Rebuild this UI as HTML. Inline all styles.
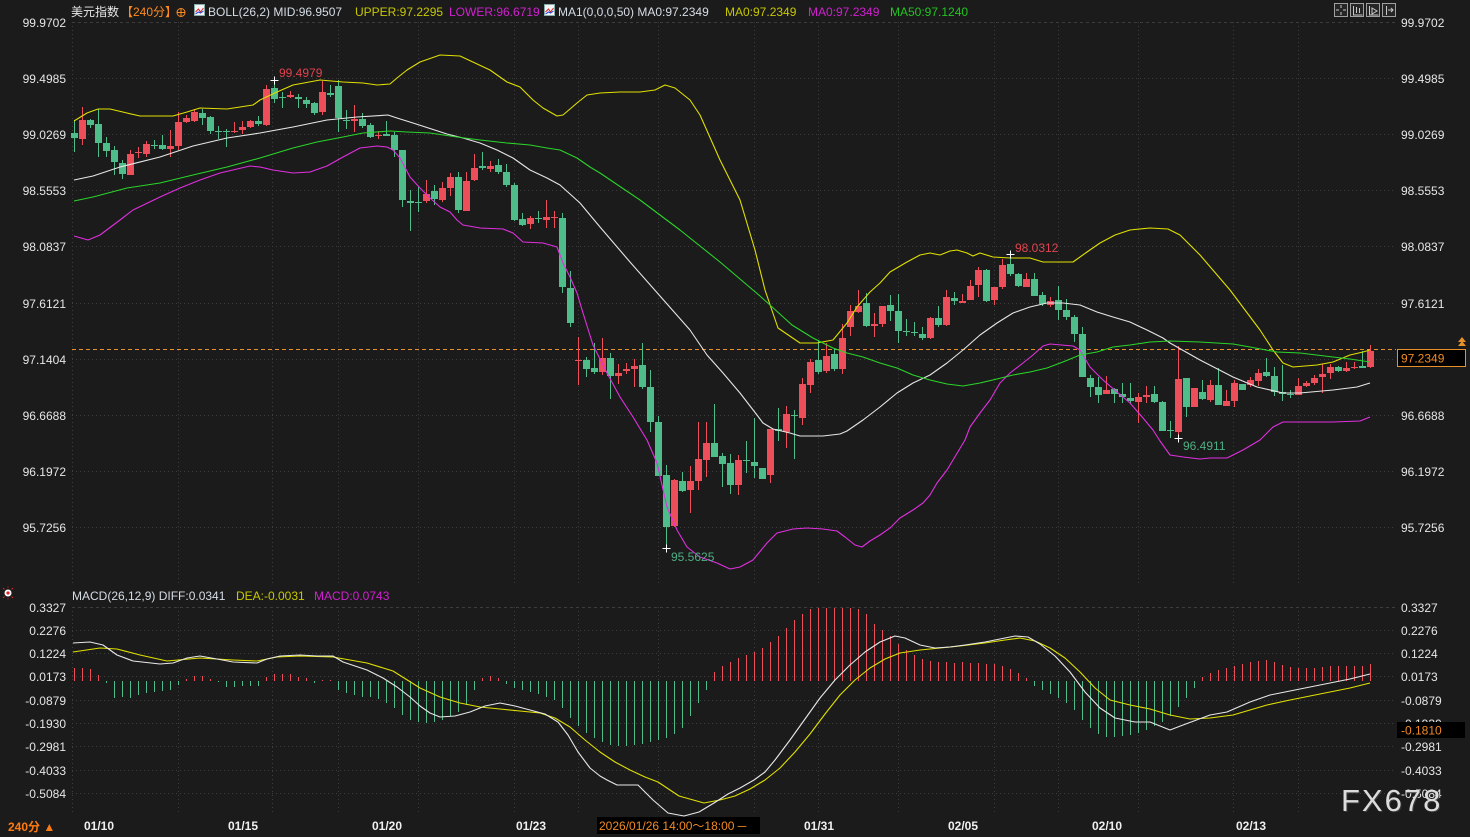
<!DOCTYPE html>
<html><head><meta charset="utf-8"><style>
html,body{margin:0;padding:0;background:#1b1b1b;}
svg{display:block;font-family:"Liberation Sans","Noto Sans CJK SC",sans-serif;}
</style></head><body>
<svg width="1470" height="837" viewBox="0 0 1470 837" xmlns="http://www.w3.org/2000/svg">
<rect width="1470" height="837" fill="#1b1b1b"/>
<!-- grid -->
<g stroke="#3d3d3d" stroke-width="1" fill="none">
<path stroke-dasharray="3 3" d="M72 22.5H1396M72 607.5H1396"/>
<path stroke-dasharray="1 3" d="M72 78.5H1396M72 134.5H1396M72 190.5H1396M72 246.5H1396M72 303.5H1396M72 359.5H1396M72 415.5H1396M72 471.5H1396M72 527.5H1396M72 630.5H1396M72 653.5H1396M72 676.5H1396M72 700.5H1396M72 723.5H1396M72 746.5H1396M72 770.5H1396M72 793.5H1396"/>
<path stroke-dasharray="1 3" d="M72.5 22V585M178.5 22V585M272.5 22V585M338.5 22V585M418.5 22V585M514.5 22V585M578.5 22V585M658.5 22V585M754.5 22V585M818.5 22V585M898.5 22V585M994.5 22V585M1058.5 22V585M1138.5 22V585M1233.5 22V585M1298.5 22V585"/>
<path stroke-dasharray="1 3" d="M72.5 607V812M178.5 607V812M272.5 607V812M338.5 607V812M418.5 607V812M514.5 607V812M578.5 607V812M658.5 607V812M754.5 607V812M818.5 607V812M898.5 607V812M994.5 607V812M1058.5 607V812M1138.5 607V812M1233.5 607V812M1298.5 607V812"/>
</g>
<!-- current price dashed line -->
<path d="M72 349.5H1396" stroke="#e8902a" stroke-width="1" stroke-dasharray="4 3"/>
<!-- candles red wicks -->
<path fill="none" stroke="#ee4d5a" stroke-width="1" d="M82.5 107V145M130.5 150V175M138.5 147V158M146.5 141V157M170.5 130V157M178.5 112V150M186.5 115V123M194.5 109V122M234.5 122V133M242.5 121V134M250.5 120V128M266.5 85V126M290.5 91V98M322.5 81V115M354.5 105V132M378.5 131V139M426.5 180V203M442.5 182V202M450.5 173V196M466.5 172V211M474.5 154V181M490.5 161V172M530.5 216V229M546.5 200V228M554.5 211V228M578.5 337V385M602.5 338V375M618.5 364V384M626.5 363V374M634.5 359V387M674.5 479V527M690.5 466V513M698.5 422V490M706.5 422V477M738.5 455V495M770.5 429V483M786.5 406V448M802.5 378V425M810.5 359V393M826.5 343V373M842.5 324V374M850.5 305V336M858.5 290V313M874.5 313V337M882.5 306V327M930.5 317V339M946.5 290V326M962.5 294V303M970.5 280V300M978.5 267V297M994.5 287V305M1002.5 259V289M1026.5 273V287M1050.5 297V307M1106.5 376V394M1138.5 393V423M1146.5 386V403M1178.5 346V438M1194.5 388V407M1210.5 380V402M1226.5 390V406M1234.5 380V407M1250.5 377V387M1258.5 369V386M1298.5 378V395M1306.5 381V387M1314.5 375V385M1322.5 364V393M1330.5 364V379M1346.5 362V372M1354.5 362V369M1370.5 345V368"/>
<path fill="#ee4d5a" d="M79 120h7v19h-7zM127 154h7v21h-7zM135 152h7v1h-7zM143 144h7v10h-7zM167 146h7v3h-7zM175 122h7v24h-7zM183 118h7v4h-7zM191 112h7v9h-7zM231 131h7v1h-7zM239 127h7v3h-7zM247 121h7v6h-7zM263 89h7v36h-7zM287 95h7v2h-7zM319 92h7v20h-7zM351 119h7v2h-7zM375 135h7v1h-7zM423 194h7v7h-7zM439 188h7v12h-7zM447 177h7v11h-7zM463 181h7v30h-7zM471 168h7v12h-7zM487 166h7v3h-7zM527 218h7v6h-7zM543 217h7v3h-7zM551 217h7v1h-7zM575 360h7v1h-7zM599 358h7v14h-7zM615 373h7v3h-7zM623 369h7v2h-7zM631 366h7v3h-7zM671 480h7v46h-7zM687 481h7v9h-7zM695 459h7v22h-7zM703 443h7v17h-7zM735 460h7v25h-7zM767 429h7v46h-7zM783 414h7v18h-7zM799 384h7v34h-7zM807 362h7v23h-7zM823 356h7v15h-7zM839 338h7v31h-7zM847 311h7v16h-7zM855 306h7v6h-7zM871 324h7v2h-7zM879 306h7v18h-7zM927 318h7v20h-7zM943 297h7v28h-7zM959 301h7v2h-7zM967 286h7v14h-7zM975 270h7v15h-7zM991 287h7v13h-7zM999 265h7v22h-7zM1023 279h7v8h-7zM1047 301h7v4h-7zM1103 390h7v4h-7zM1135 397h7v5h-7zM1143 395h7v2h-7zM1175 379h7v53h-7zM1191 388h7v19h-7zM1207 385h7v15h-7zM1223 401h7v5h-7zM1231 383h7v18h-7zM1247 380h7v5h-7zM1255 373h7v8h-7zM1295 386h7v9h-7zM1303 383h7v3h-7zM1311 378h7v5h-7zM1319 374h7v3h-7zM1327 367h7v6h-7zM1343 368h7v3h-7zM1351 367h7v1h-7zM1367 351h7v16h-7z"/>
<!-- candles green -->
<path fill="none" stroke="#4fbd8a" stroke-width="1" d="M74.5 120V152M90.5 119V128M98.5 109V157M106.5 137V157M114.5 146V175M122.5 160V179M154.5 140V149M162.5 135V150M202.5 109V125M210.5 116V134M218.5 126V139M226.5 129V147M258.5 116V126M274.5 80V103M282.5 92V108M298.5 94V108M306.5 97V108M314.5 102V115M330.5 85V97M338.5 80V132M346.5 110V129M362.5 113V128M370.5 123V138M386.5 121V136M394.5 132V157M402.5 150V207M410.5 190V231M418.5 187V212M434.5 185V205M458.5 172V213M482.5 152V170M498.5 159V174M506.5 164V187M514.5 183V221M522.5 213V226M538.5 211V223M562.5 213V293M570.5 271V327M586.5 357V377M594.5 343V374M610.5 353V399M642.5 343V389M650.5 370V432M658.5 416V476M666.5 465V548M682.5 472V492M714.5 404V457M722.5 453V487M730.5 454V494M746.5 441V473M754.5 418V478M762.5 468V479M778.5 408V441M794.5 410V459M818.5 340V374M834.5 349V371M866.5 293V327M890.5 295V321M898.5 294V343M906.5 319V336M914.5 322V336M922.5 327V340M938.5 306V327M954.5 292V305M986.5 269V302M1010.5 253V276M1018.5 273V287M1034.5 273V296M1042.5 292V306M1058.5 286V320M1066.5 299V320M1074.5 315V342M1082.5 327V377M1090.5 375V397M1098.5 377V403M1114.5 388V403M1122.5 383V403M1130.5 383V403M1154.5 386V403M1162.5 401V431M1170.5 421V438M1186.5 378V417M1202.5 380V400M1218.5 368V405M1242.5 384V390M1266.5 358V377M1274.5 367V396M1282.5 365V401M1290.5 390V398M1338.5 366V372M1362.5 351V368"/>
<path fill="#4fbd8a" d="M71 133h7v5h-7zM87 120h7v5h-7zM95 124h7v19h-7zM103 143h7v8h-7zM111 150h7v12h-7zM119 163h7v11h-7zM151 145h7v1h-7zM159 145h7v4h-7zM199 113h7v5h-7zM207 117h7v14h-7zM215 131h7v1h-7zM223 131h7v1h-7zM255 121h7v3h-7zM271 88h7v11h-7zM279 97h7v1h-7zM295 97h7v2h-7zM303 100h7v4h-7zM311 103h7v10h-7zM327 93h7v2h-7zM335 86h7v32h-7zM343 120h7v1h-7zM359 119h7v7h-7zM367 125h7v12h-7zM383 134h7v2h-7zM391 135h7v15h-7zM399 150h7v50h-7zM407 201h7v2h-7zM415 202h7v1h-7zM431 191h7v8h-7zM455 177h7v33h-7zM479 166h7v2h-7zM495 165h7v7h-7zM503 172h7v13h-7zM511 185h7v35h-7zM519 219h7v6h-7zM535 218h7v1h-7zM559 218h7v69h-7zM567 288h7v35h-7zM583 360h7v9h-7zM591 368h7v4h-7zM607 358h7v18h-7zM639 365h7v22h-7zM647 387h7v35h-7zM655 422h7v54h-7zM663 475h7v52h-7zM679 481h7v10h-7zM711 443h7v14h-7zM719 456h7v8h-7zM727 463h7v22h-7zM743 460h7v1h-7zM751 462h7v4h-7zM759 468h7v11h-7zM775 429h7v2h-7zM791 415h7v1h-7zM815 360h7v12h-7zM831 354h7v15h-7zM863 303h7v23h-7zM887 305h7v6h-7zM895 311h7v20h-7zM903 331h7v1h-7zM911 332h7v1h-7zM919 334h7v4h-7zM935 318h7v7h-7zM951 298h7v3h-7zM983 270h7v31h-7zM1007 264h7v10h-7zM1015 274h7v12h-7zM1031 279h7v17h-7zM1039 295h7v9h-7zM1055 300h7v10h-7zM1063 310h7v7h-7zM1071 317h7v17h-7zM1079 334h7v43h-7zM1087 378h7v9h-7zM1095 387h7v8h-7zM1111 389h7v5h-7zM1119 394h7v3h-7zM1127 398h7v3h-7zM1151 394h7v8h-7zM1159 402h7v29h-7zM1167 430h7v1h-7zM1183 378h7v29h-7zM1199 392h7v7h-7zM1215 385h7v20h-7zM1239 384h7v6h-7zM1263 372h7v4h-7zM1271 376h7v16h-7zM1279 392h7v2h-7zM1287 394h7v1h-7zM1335 367h7v4h-7zM1359 366h7v2h-7z"/>
<!-- overlays -->
<g fill="none" stroke-width="1.1" stroke-linejoin="round">
<polyline stroke="#e6e6e6" points="74,180 93,176 120,167 160,157 193,146 227,138 260,133 293,127 327,120 357,117 388,115 397,118 413,123 447,134 463,138 480,143 497,150 513,158 530,170 547,178 560,185 580,203 600,227 630,262 660,296 690,330 707,355 723,373 740,393 757,415 763,423 773,429 790,433 800,436 823,436 840,434 847,431 863,420 880,407 897,393 913,383 930,375 947,363 963,350 980,335 997,323 1013,313 1030,307 1047,303 1063,303 1080,305 1097,312 1113,317 1130,322 1147,330 1163,338 1170,343 1200,360 1233,377 1257,387 1283,393 1300,393 1333,390 1357,387 1370,383"/>
<polyline stroke="#e0e000" points="74,121 87,113 98,109 110,109 127,113 140,116 173,116 187,112 200,108 227,109 253,105 260,100 277,92 293,85 320,80 343,82 363,83 377,85 390,84 397,78 407,70 420,62 440,55 460,56 475,63 490,70 507,82 520,87 533,100 543,108 557,116 563,115 577,103 587,95 600,93 620,92 640,92 655,90 665,85 675,88 690,100 700,115 720,160 740,200 755,250 765,290 778,328 800,343 817,343 833,340 847,323 857,307 870,292 880,283 890,272 907,262 920,255 930,253 940,255 950,251 957,250 967,253 973,256 980,253 993,257 1010,258 1030,258 1043,262 1073,262 1087,252 1100,243 1115,235 1130,230 1150,228 1168,229 1180,235 1200,255 1230,290 1260,330 1273,350 1283,363 1293,367 1317,365 1333,362 1350,355 1363,352 1370,350"/>
<polyline stroke="#e030e0" points="74,236 88,240 100,235 120,220 133,210 160,197 180,188 200,180 220,173 250,166 260,167 273,170 293,173 310,172 327,166 343,157 360,148 377,146 387,147 393,150 400,158 410,177 420,188 430,198 440,207 450,212 457,220 463,225 480,228 503,229 513,233 523,242 543,243 557,247 563,263 570,277 577,293 583,313 593,345 607,373 620,397 633,417 647,440 657,463 667,507 677,530 687,547 700,557 717,563 730,569 740,567 753,560 767,543 777,533 793,529 807,528 823,529 837,531 845,537 855,545 862,547 870,541 880,535 890,528 900,518 913,510 923,503 930,495 937,483 947,470 965,440 970,427 980,413 990,400 1000,383 1010,373 1023,363 1033,355 1043,346 1050,344 1073,346 1080,350 1090,367 1103,380 1117,392 1130,403 1143,418 1153,430 1160,441 1170,455 1183,457 1200,459 1210,458 1227,458 1243,450 1260,440 1273,427 1283,422 1307,422 1333,422 1360,421 1370,417"/>
<polyline stroke="#2ad42a" points="74,201 93,197 127,188 160,183 193,175 227,167 260,158 293,148 317,142 343,137 363,133 390,131 407,132 430,133 457,137 480,140 507,143 530,145 547,148 560,150 577,158 590,167 600,173 640,200 680,230 720,262 760,296 792,325 813,338 833,348 847,353 863,357 880,363 897,368 913,375 930,380 947,384 963,386 980,383 997,379 1013,375 1030,372 1047,368 1063,362 1080,355 1097,352 1113,347 1130,345 1150,342 1170,341 1200,342 1233,344 1250,347 1277,352 1300,353 1333,357 1350,359 1370,362"/>
</g>
<!-- high/low markers -->
<path stroke="#ffffff" stroke-width="1" fill="none" d="M270.5 80.5h8M274.5 76.5v8M662.5 548.5h8M666.5 544.5v8M1006.5 254.5h8M1010.5 250.5v8M1174.5 438.5h8M1178.5 434.5v8"/>
<g font-size="12">
<text x="279" y="77" fill="#e2424f">99.4979</text>
<text x="671" y="561" fill="#4fae84">95.5625</text>
<text x="1015" y="252" fill="#e2424f">98.0312</text>
<text x="1183" y="450" fill="#4fae84">96.4911</text>
</g>
<!-- MACD hist -->
<path fill="none" stroke="#ee4d5a" stroke-width="1" d="M74.5 681V668M82.5 681V668M90.5 681V669M98.5 681V675M186.5 681V679M194.5 681V676M202.5 681V676M210.5 681V679M266.5 681V677M274.5 681V674M282.5 681V674M290.5 681V674M298.5 681V677M306.5 681V678M322.5 681V680M330.5 681V680M482.5 681V678M490.5 681V676M498.5 681V678M714.5 681V672M722.5 681V666M730.5 681V662M738.5 681V658M746.5 681V655M754.5 681V652M762.5 681V648M770.5 681V642M778.5 681V636M786.5 681V628M794.5 681V620M802.5 681V614M810.5 681V609M818.5 681V608M826.5 681V608M834.5 681V608M842.5 681V608M850.5 681V608M858.5 681V609M866.5 681V614M874.5 681V624M882.5 681V630M890.5 681V636M898.5 681V644M906.5 681V650M914.5 681V655M922.5 681V659M930.5 681V661M938.5 681V662M946.5 681V662M954.5 681V663M962.5 681V662M970.5 681V663M978.5 681V663M986.5 681V664M994.5 681V664M1002.5 681V666M1010.5 681V669M1018.5 681V673M1026.5 681V678M1202.5 681V677M1210.5 681V673M1218.5 681V670M1226.5 681V668M1234.5 681V666M1242.5 681V664M1250.5 681V662M1258.5 681V661M1266.5 681V660M1274.5 681V662M1282.5 681V665M1290.5 681V667M1298.5 681V668M1306.5 681V668M1314.5 681V668M1322.5 681V667M1330.5 681V666M1338.5 681V666M1346.5 681V666M1354.5 681V666M1362.5 681V666M1370.5 681V664"/>
<path fill="none" stroke="#4fbd8a" stroke-width="1" d="M106.5 681V683M114.5 681V698M122.5 681V697M130.5 681V698M138.5 681V695M146.5 681V693M154.5 681V692M162.5 681V691M170.5 681V690M178.5 681V685M218.5 681V682M226.5 681V687M234.5 681V687M242.5 681V686M250.5 681V686M258.5 681V686M314.5 681V683M338.5 681V690M346.5 681V693M354.5 681V695M362.5 681V697M370.5 681V697M378.5 681V699M386.5 681V703M394.5 681V708M402.5 681V715M410.5 681V720M418.5 681V722M426.5 681V723M434.5 681V722M442.5 681V720M450.5 681V716M458.5 681V712M466.5 681V705M474.5 681V690M506.5 681V684M514.5 681V688M522.5 681V690M530.5 681V692M538.5 681V694M546.5 681V697M554.5 681V700M562.5 681V708M570.5 681V718M578.5 681V726M586.5 681V733M594.5 681V738M602.5 681V742M610.5 681V745M618.5 681V746M626.5 681V746M634.5 681V745M642.5 681V744M650.5 681V742M658.5 681V740M666.5 681V738M674.5 681V734M682.5 681V728M690.5 681V716M698.5 681V703M706.5 681V690M1034.5 681V686M1042.5 681V690M1050.5 681V694M1058.5 681V698M1066.5 681V703M1074.5 681V710M1082.5 681V720M1090.5 681V728M1098.5 681V734M1106.5 681V737M1114.5 681V737M1122.5 681V736M1130.5 681V735M1138.5 681V733M1146.5 681V730M1154.5 681V726M1162.5 681V722M1170.5 681V716M1178.5 681V707M1186.5 681V698M1194.5 681V688"/>
<!-- MACD lines -->
<g fill="none" stroke-width="1.1" stroke-linejoin="round">
<polyline stroke="#e0e000" points="73,652 100,648 117,649 140,655 167,661 200,658 233,660 257,661 277,657 300,656 333,657 367,663 393,671 420,688 440,697 460,703 480,707 500,709 520,711 540,713 555,718 570,727 585,740 600,752 615,762 630,770 645,777 658,782 679,796 704,803 720,800 735,796 750,789 765,780 780,768 795,752 810,734 825,714 840,695 855,680 870,668 885,659 900,653 920,650 940,648 960,646 985,643 1005,640 1020,638 1035,641 1050,648 1065,658 1080,672 1095,688 1110,700 1130,705 1150,709 1170,715 1190,719 1210,718 1233,715 1267,705 1290,700 1320,694 1350,688 1370,683"/>
<polyline stroke="#e8e8e8" points="73,643 90,642 103,645 117,655 133,661 160,664 173,663 187,658 200,656 217,659 233,662 257,663 267,659 280,656 300,655 317,656 333,656 343,662 367,670 383,678 397,687 410,697 420,706 430,713 440,717 455,716 470,712 485,706 500,703 515,706 530,710 545,714 558,722 568,735 578,752 590,768 600,776 607,780 617,785 638,785 653,800 668,813 684,816 699,812 714,803 728,794 740,788 754,780 765,772 775,760 790,740 800,726 810,712 820,698 835,680 850,665 865,652 880,642 895,636 905,638 920,645 935,648 950,647 965,645 985,642 1000,639 1015,636 1028,637 1040,644 1055,656 1070,672 1085,692 1100,708 1115,718 1135,722 1150,722 1170,730 1183,725 1210,715 1227,712 1250,702 1270,695 1290,691 1310,687 1330,683 1350,679 1370,674"/>
</g>
<!-- left axis labels -->
<g font-size="12" fill="#e6e6e6" text-anchor="end">
<text x="66" y="27">99.9702</text>
<text x="66" y="83">99.4985</text>
<text x="66" y="139">99.0269</text>
<text x="66" y="195">98.5553</text>
<text x="66" y="251">98.0837</text>
<text x="66" y="308">97.6121</text>
<text x="66" y="364">97.1404</text>
<text x="66" y="420">96.6688</text>
<text x="66" y="476">96.1972</text>
<text x="66" y="532">95.7256</text>
<text x="66" y="612">0.3327</text>
<text x="66" y="635">0.2276</text>
<text x="66" y="658">0.1224</text>
<text x="66" y="681">0.0173</text>
<text x="66" y="705">-0.0879</text>
<text x="66" y="728">-0.1930</text>
<text x="66" y="751">-0.2981</text>
<text x="66" y="775">-0.4033</text>
<text x="66" y="798">-0.5084</text>
</g>
<!-- right axis labels -->
<g font-size="12" fill="#e6e6e6">
<text x="1401" y="27">99.9702</text>
<text x="1401" y="83">99.4985</text>
<text x="1401" y="139">99.0269</text>
<text x="1401" y="195">98.5553</text>
<text x="1401" y="251">98.0837</text>
<text x="1401" y="308">97.6121</text>
<text x="1401" y="364">97.1404</text>
<text x="1401" y="420">96.6688</text>
<text x="1401" y="476">96.1972</text>
<text x="1401" y="532">95.7256</text>
<text x="1401" y="612">0.3327</text>
<text x="1401" y="635">0.2276</text>
<text x="1401" y="658">0.1224</text>
<text x="1401" y="681">0.0173</text>
<text x="1401" y="705">-0.0879</text>
<text x="1401" y="728">-0.1930</text>
<text x="1401" y="751">-0.2981</text>
<text x="1401" y="775">-0.4033</text>
<text x="1401" y="798">-0.5084</text>
</g>
<!-- price tag -->
<rect x="1397.5" y="349.5" width="68" height="17" fill="#000" stroke="#e8902a" stroke-width="1"/>
<text x="1401" y="362.5" font-size="12" fill="#f08a24">97.2349</text>
<path d="M1458 346l4-5 4 5zM1458 342l4-5 4 5z" fill="#e8902a"/>
<rect x="1397" y="722" width="68" height="16" fill="#000"/>
<text x="1401" y="734.5" font-size="12" fill="#f08a24">-0.1810</text>
<!-- top legend -->
<g font-size="12">
<text x="71" y="16" fill="#e8e8e8">美元指数</text>
<text x="121" y="16" fill="#ff8a1e">【240分】</text>
<circle cx="181" cy="12.5" r="4" fill="none" stroke="#ff8a1e" stroke-width="1"/>
<path d="M177 12.5h8M181 8.5v8" stroke="#ff8a1e" stroke-width="1"/>
<rect x="194.5" y="4.5" width="10" height="11" fill="#f4f4f4" stroke="#8aa" stroke-width="1"/>
<path d="M195.5 12l3-3 2 3 3-4" stroke="#e02020" fill="none" stroke-width="1"/>
<path d="M195.5 14l3-2 2 1 3-2" stroke="#2040e0" fill="none" stroke-width="1"/>
<text x="208" y="16" fill="#d6dde6">BOLL(26,2) MID:96.9507</text>
<text x="355" y="16" fill="#c8c800">UPPER:97.2295</text>
<text x="449" y="16" fill="#d020d0">LOWER:96.6719</text>
<rect x="544.5" y="4.5" width="10" height="11" fill="#f4f4f4" stroke="#8aa" stroke-width="1"/>
<path d="M545.5 12l3-3 2 3 3-4" stroke="#e02020" fill="none" stroke-width="1"/>
<path d="M545.5 14l3-2 2 1 3-2" stroke="#2040e0" fill="none" stroke-width="1"/>
<text x="558" y="16" fill="#d6dde6">MA1(0,0,0,50) MA0:97.2349</text>
<text x="725" y="16" fill="#c8c800">MA0:97.2349</text>
<text x="808" y="16" fill="#d020d0">MA0:97.2349</text>
<text x="890" y="16" fill="#22c322">MA50:97.1240</text>
</g>
<!-- top right icons -->
<g stroke="#a0a0a0" stroke-width="1" fill="#262626">
<rect x="1334.5" y="3.5" width="13" height="13"/>
<rect x="1350.5" y="3.5" width="13" height="13"/>
<rect x="1366.5" y="3.5" width="13" height="13"/>
<rect x="1382.5" y="3.5" width="13" height="13"/>
</g>
<g stroke="#c8c8c8" stroke-width="1" fill="none">
<path d="M1341 5v3M1341 12v3M1336 10h3M1343 10h3"/>
<path d="M1353.5 6v9h9M1356.5 7v6M1359.5 8v5"/>
<path d="M1369.5 6v9h9M1372 8l5 3-5 3z"/>
<path d="M1386.5 6v9M1388 10h5M1391 8l2 2-2 2"/>
</g>
<!-- MACD legend -->
<circle cx="8" cy="593" r="3.5" fill="#fff"/>
<circle cx="8" cy="593" r="1.6" fill="#e02020"/>
<path d="M3 588l1.5 1.5M13 588l-1.5 1.5M3 598l1.5-1.5M13 598l-1.5-1.5M8 586.5v1M8 598.5v1" stroke="#e02020" stroke-width="1"/>
<g font-size="12">
<text x="72" y="600" fill="#d6dde6">MACD(26,12,9) DIFF:0.0341</text>
<text x="236" y="600" fill="#c8c800">DEA:-0.0031</text>
<text x="314" y="600" fill="#d020d0">MACD:0.0743</text>
</g>
<!-- bottom axis -->
<g font-size="12" font-weight="bold" fill="#f0f0f0" text-anchor="middle">
<text x="99" y="830">01/10</text>
<text x="243" y="830">01/15</text>
<text x="387" y="830">01/20</text>
<text x="531" y="830">01/23</text>
<text x="819" y="830">01/31</text>
<text x="963" y="830">02/05</text>
<text x="1107" y="830">02/10</text>
<text x="1251" y="830">02/13</text>
</g>
<text x="8" y="831" font-size="12" font-weight="bold" fill="#ff7a10">240分 ▲</text>
<rect x="597" y="817" width="163" height="17" fill="#000"/>
<text x="599" y="830" font-size="12" fill="#f08a24">2026/01/26 14:00～18:00 ─</text>
<!-- watermark -->
<text x="1342" y="812" font-size="31" letter-spacing="2" fill="#3a3a3a">FX678</text>
<text x="1341" y="811" font-size="31" letter-spacing="2" fill="#dcdcdc">FX678</text>
</svg>
</body></html>
